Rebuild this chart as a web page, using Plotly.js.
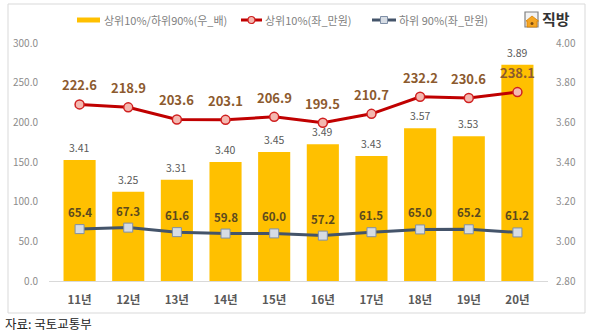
<!DOCTYPE html>
<html><head><meta charset="utf-8">
<script src="https://cdn.plot.ly/plotly-3.0.1.min.js"></script>
<style>html,body{margin:0;padding:0;background:#fff}#c{width:601px;height:336px}</style>
</head><body><div id="c"></div>
<script>
const categories = ['11년','12년','13년','14년','15년','16년','17년','18년','19년','20년'];
const ratio = [3.41,3.25,3.31,3.40,3.45,3.49,3.43,3.57,3.53,3.89];
const top10 = [222.6,218.9,203.6,203.1,206.9,199.5,210.7,232.2,230.6,238.1];
const bottom90 = [65.4,67.3,61.6,59.8,60.0,57.2,61.5,65.0,65.2,61.2];
const leftTicks = [0,50,100,150,200,250,300];
const rightTicks = [2.8,3.0,3.2,3.4,3.6,3.8,4.0];
const legendNames = ['상위10%/하위90%(우_배)','상위10%(좌_만원)','하위 90%(좌_만원)'];

const W=601,H=336,L=49,R=53,T=43,B=55;
const pw=W-L-R, ph=H-T-B;
const px=x=>(x-L)/pw, py=y=>(H-B-y)/ph;
const FONT='"Noto Sans CJK KR", "Noto Sans", sans-serif';

const traces=[
 {type:'bar',x:categories,y:ratio,yaxis:'y',marker:{color:'#FFC000'},showlegend:false,hoverinfo:'none'},
 {type:'scatter',mode:'lines+markers',x:categories,y:top10,yaxis:'y2',line:{color:'#C00000',width:3},
  marker:{symbol:'circle',size:9,color:'#F4B8B0',line:{color:'#D02020',width:1.5}},showlegend:false,cliponaxis:false},
 {type:'scatter',mode:'lines+markers',x:categories,y:bottom90,yaxis:'y2',line:{color:'#44546A',width:3},
  marker:{symbol:'square',size:9,color:'#D6DCE4',line:{color:'#7F8FA6',width:1}},showlegend:false,cliponaxis:false}
];

const ann=[];
categories.forEach((c,i)=>{
 ann.push({x:c,y:ratio[i],xref:'x',yref:'y',text:ratio[i].toFixed(2),showarrow:false,yanchor:'bottom',yshift:3,
   font:{family:FONT,size:10.5,color:'#595959'}});
 ann.push({x:c,y:top10[i],xref:'x',yref:'y2',text:top10[i].toFixed(1),showarrow:false,yanchor:'bottom',yshift:8,
   font:{family:FONT,size:13,color:'#8C5A2E',weight:'bold'}});
 ann.push({x:c,y:bottom90[i],xref:'x',yref:'y2',text:bottom90[i].toFixed(1),showarrow:false,yanchor:'bottom',yshift:7,
   font:{family:FONT,size:11.5,color:'#5C4A1E',weight:'bold'}});
});
const legX=[102,263,397];
legendNames.forEach((n,i)=>ann.push({x:px(legX[i]),y:py(20),xref:'paper',yref:'paper',text:n,showarrow:false,
  xanchor:'left',yanchor:'middle',font:{family:FONT,size:11,color:'#7F7F7F'}}));
ann.push({x:px(540),y:py(19),xref:'paper',yref:'paper',text:'직방',showarrow:false,xanchor:'left',yanchor:'middle',
  font:{family:FONT,size:15,color:'#333333',weight:'bold'}});
ann.push({x:px(3),y:py(323),xref:'paper',yref:'paper',text:'자료: 국토교통부',showarrow:false,xanchor:'left',yanchor:'middle',
  font:{family:FONT,size:12.5,color:'#222222'}});

const shapes=[
 {type:'rect',xref:'paper',yref:'paper',x0:px(8),x1:px(585),y0:py(313),y1:py(4),line:{color:'#D9D9D9',width:1},layer:'below'},
 {type:'rect',xref:'paper',yref:'paper',x0:px(77),x1:px(100),y0:py(22.5),y1:py(17.5),fillcolor:'#FFC000',line:{width:0}},
 {type:'line',xref:'paper',yref:'paper',x0:px(241),x1:px(262),y0:py(20),y1:py(20),line:{color:'#C00000',width:3}},
 {type:'circle',xref:'paper',yref:'paper',x0:px(248),x1:px(255),y0:py(23.5),y1:py(16.5),fillcolor:'#F4B8B0',line:{color:'#D02020',width:1.2}},
 {type:'line',xref:'paper',yref:'paper',x0:px(372),x1:px(396),y0:py(20),y1:py(20),line:{color:'#44546A',width:3}},
 {type:'rect',xref:'paper',yref:'paper',x0:px(380.5),x1:px(387.5),y0:py(23.5),y1:py(16.5),fillcolor:'#D6DCE4',line:{color:'#7F8FA6',width:1}},
 {type:'rect',xref:'paper',yref:'paper',x0:px(525),x1:px(538),y0:py(27),y1:py(12),fillcolor:'#F2F2F2',line:{color:'#808080',width:1.2}},
 {type:'path',xref:'paper',yref:'paper',
  path:`M ${px(526)} ${py(21)} L ${px(532)} ${py(16)} L ${px(538.5)} ${py(21)} L ${px(537)} ${py(21)} L ${px(537)} ${py(27)} L ${px(527)} ${py(27)} L ${px(527)} ${py(21)} Z`,
  fillcolor:'#F5A623',line:{color:'#D98200',width:0.8}},
 {type:'circle',xref:'paper',yref:'paper',x0:px(530.5),x1:px(533.5),y0:py(25),y1:py(22),fillcolor:'#7A4A10',line:{width:0}}
];

const layout={
 width:W,height:H,margin:{l:L,r:R,t:T,b:B},paper_bgcolor:'#fff',plot_bgcolor:'rgba(0,0,0,0)',
 font:{family:FONT},showlegend:false,bargap:0.34,
 xaxis:{type:'category',showline:true,linecolor:'#D9D9D9',linewidth:1,ticks:'',showgrid:false,zeroline:false,
   tickfont:{family:FONT,size:11.5,color:'#595959',weight:'bold'},ticklabelstandoff:8},
 yaxis:{side:'right',range:[2.8,4.0],tickvals:rightTicks,ticktext:rightTicks.map(v=>v.toFixed(2)),showgrid:false,zeroline:false,
   showline:false,tickfont:{family:FONT,size:10,color:'#8C8C8C'},ticklabelstandoff:7},
 yaxis2:{overlaying:'y',side:'left',range:[0,300],tickvals:leftTicks,ticktext:leftTicks.map(v=>v.toFixed(1)),showgrid:false,zeroline:false,
   showline:false,tickfont:{family:FONT,size:10,color:'#8C8C8C'},ticklabelstandoff:10},
 annotations:ann,shapes:shapes
};
Plotly.newPlot('c',traces,layout,{displayModeBar:false,staticPlot:true});
</script></body></html>
